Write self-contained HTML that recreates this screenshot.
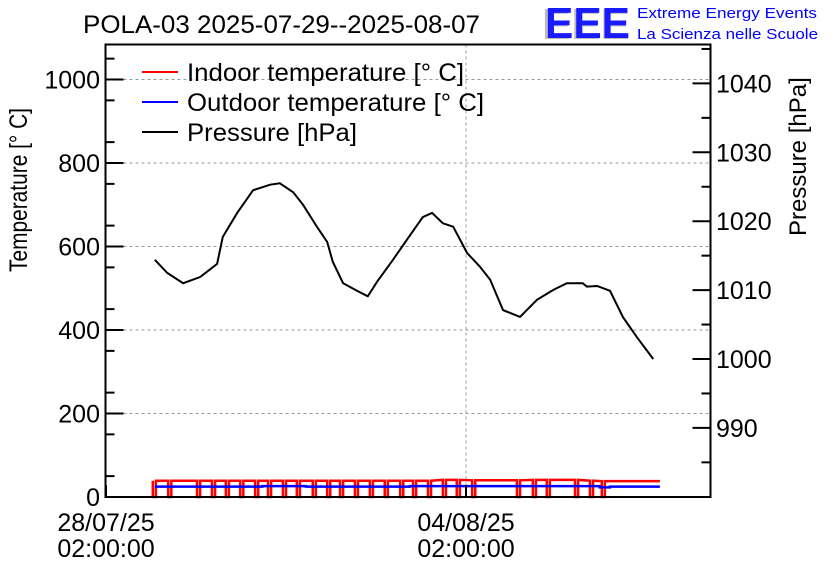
<!DOCTYPE html>
<html><head><meta charset="utf-8"><style>
body{margin:0;background:#fff}
svg{display:block;font-family:"Liberation Sans",sans-serif}
</style></head><body>
<svg id="chart" width="836" height="572">
<text x="83" y="33" font-size="25" textLength="397" lengthAdjust="spacingAndGlyphs">POLA-03 2025-07-29--2025-08-07</text>
<g>
<text x="542" y="39" font-size="44" font-weight="bold" fill="#bbb" textLength="88" lengthAdjust="spacingAndGlyphs">EEE</text>
<text x="545" y="38" font-size="44" font-weight="bold" fill="#1a1aff" textLength="85" lengthAdjust="spacingAndGlyphs">EEE</text>
<text x="637" y="18" font-size="15" fill="#0000ff" textLength="180" lengthAdjust="spacingAndGlyphs">Extreme Energy Events</text>
<text x="637" y="39" font-size="15" fill="#0000ff" textLength="181" lengthAdjust="spacingAndGlyphs">La Scienza nelle Scuole</text>
</g>
<g id="grid"></g>
<g id="series"></g>
<rect x="105.5" y="44.5" width="605" height="452.5" fill="none" stroke="#000" stroke-width="2"/>
<g id="axes"></g>
<text transform="translate(27,272) rotate(-90)" font-size="25" textLength="164" lengthAdjust="spacingAndGlyphs">Temperature [° C]</text>
<text transform="translate(806,236) rotate(-90)" font-size="24">Pressure [hPa]</text>
<g>
<line x1="142" y1="72" x2="178" y2="72" stroke="#f00" stroke-width="2"/>
<text x="187" y="81" font-size="25" textLength="277" lengthAdjust="spacingAndGlyphs">Indoor temperature [° C]</text>
<line x1="142" y1="102" x2="178" y2="102" stroke="#00f" stroke-width="2"/>
<text x="187" y="111" font-size="25" textLength="297" lengthAdjust="spacingAndGlyphs">Outdoor temperature [° C]</text>
<line x1="142" y1="132" x2="178" y2="132" stroke="#000" stroke-width="2"/>
<text x="187" y="141" font-size="25" textLength="170" lengthAdjust="spacingAndGlyphs">Pressure [hPa]</text>
</g>
</svg>
<script>
const tempTicks=[0,200,400,600,800,1000];
const presTicks=[990,1000,1010,1020,1030,1040];
const xTickDays=[0,7];
const xTickLabels=[["28/07/25","02:00:00"],["04/08/25","02:00:00"]];
const presDays=[0.95,1.19,1.50,1.83,2.16,2.27,2.55,2.86,3.19,3.38,3.64,3.83,4.10,4.30,4.41,4.61,4.88,5.09,5.27,5.58,5.85,6.16,6.34,6.55,6.75,7.02,7.27,7.47,7.72,8.05,8.38,8.69,8.96,9.27,9.35,9.55,9.80,10.05,10.32,10.62,10.64];
const presVals=[1014.4,1012.5,1011.0,1011.9,1013.8,1017.7,1021.2,1024.5,1025.3,1025.5,1024.2,1022.4,1019.2,1017.0,1014.1,1011.0,1009.9,1009.1,1011.2,1014.4,1017.3,1020.6,1021.2,1019.7,1019.2,1015.4,1013.4,1011.5,1007.1,1006.1,1008.6,1010.0,1011.0,1011.0,1010.5,1010.6,1009.9,1006.1,1003.2,1000.2,1000.0];
const indoorPulseDays=[0.91,1.21,1.77,2.06,2.33,2.61,2.90,3.15,3.44,3.71,4.02,4.30,4.55,4.84,5.13,5.42,5.72,5.97,6.26,6.55,6.82,7.12,7.99,8.30,8.57,9.12,9.41,9.64];
const indoorLevel=[39,39,39,39,39,39,39,39,39,39,39,39,39,39,39,39,39,39,39,41,41,40,40,41,41,41,39,38];
const indoorEnd=10.77;
const outDays=[0.95,3.04,3.89,5.91,9.41,9.60,9.80,10.77];
const outVals=[25,26,25,26,26,23,25,25];
const NS="http://www.w3.org/2000/svg";
const L=105.5,R=710.5,T=44.5,B=497;
const xS=d=>106+d*51.43;
const yT=v=>497-v*0.4175;
const yP=p=>359-(p-1000)*6.89;
function mk(tag,attrs,parent){const e=document.createElementNS(NS,tag);for(const k in attrs)e.setAttribute(k,attrs[k]);parent.appendChild(e);return e;}
const grid=document.getElementById('grid'),axes=document.getElementById('axes'),series=document.getElementById('series');
tempTicks.forEach(v=>{
 if(v>0){const g=mk('line',{x1:L,x2:R,y1:yT(v),y2:yT(v),stroke:'#999','stroke-dasharray':'3,3'},grid);
 }
 const t=mk('line',{x1:L,x2:L+18,y1:yT(v),y2:yT(v),stroke:'#000','stroke-width':2},axes);
 
 const tx=mk('text',{x:100,y:yT(v)+9,'font-size':25,'text-anchor':'end'},axes);tx.textContent=v;
 
});
for(let v=50;v<1090;v+=100){const m=mk('line',{x1:L,x2:L+9,y1:yT(v),y2:yT(v),stroke:'#000','stroke-width':2},axes);
 }
presTicks.forEach(p=>{
 const t=mk('line',{x1:R-18,x2:R,y1:yP(p),y2:yP(p),stroke:'#000','stroke-width':2},axes);
 
 const tx=mk('text',{x:716,y:yP(p)+9,'font-size':25},axes);tx.textContent=p;
 
});
for(let p=985;p<1046;p+=10){const m=mk('line',{x1:R-9,x2:R,y1:yP(p),y2:yP(p),stroke:'#000','stroke-width':2},axes);
 }
xTickDays.forEach((d,i)=>{
 if(d>0){const g=mk('line',{x1:xS(d),x2:xS(d),y1:T,y2:B,stroke:'#999','stroke-dasharray':'3,3'},grid);
 }
 const t=mk('line',{x1:xS(d),x2:xS(d),y1:B,y2:B-12,stroke:'#000','stroke-width':2},axes);
 
 xTickLabels[i].forEach((s,j)=>{const tx=mk('text',{x:xS(d),y:531+j*26,'font-size':25,'text-anchor':'middle'},axes);tx.textContent=s;
 });
});
let dI='';const w=0.06;
indoorPulseDays.forEach((d,i)=>{
 const lv=yT(indoorLevel[i]);
 dI+=(i==0?'M':'L')+xS(d)+','+lv+'L'+xS(d)+','+yT(0)+'L'+xS(d+w)+','+yT(0)+'L'+xS(d+w)+','+lv;
});
dI+='L'+xS(indoorEnd)+','+yT(indoorLevel[indoorLevel.length-1]);
const pi=mk('path',{d:dI,fill:'none',stroke:'#f00','stroke-width':2.5},series);

let dO='';outDays.forEach((d,i)=>{dO+=(i==0?'M':'L')+xS(d)+','+yT(outVals[i]);if(i<outDays.length-1)dO+='L'+xS(outDays[i+1])+','+yT(outVals[i]);});
const po=mk('path',{d:dO,fill:'none',stroke:'#00f','stroke-width':2.5},series);

let dP='';presDays.forEach((d,i)=>{dP+=(i==0?'M':'L')+xS(d)+','+yP(presVals[i]);});
const pp=mk('path',{d:dP,fill:'none',stroke:'#000','stroke-width':2},series);

</script>
</body></html>
